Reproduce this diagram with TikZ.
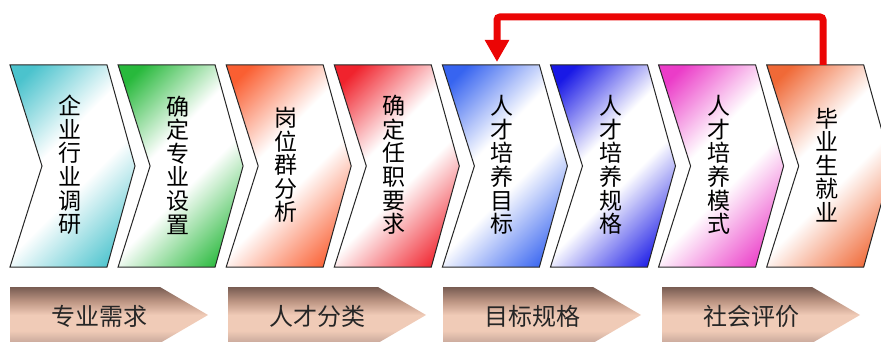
\documentclass[tikz,border=0pt]{standalone}
\usepackage{fontspec}
\newfontfamily\cjk{Noto Sans CJK SC}
\usetikzlibrary{arrows.meta}
\definecolor{chevc}{RGB}{80,195,205}
\definecolor{cA}{RGB}{75,195,205}
\definecolor{cB}{RGB}{40,185,60}
\definecolor{cC}{RGB}{250,95,50}
\definecolor{cD}{RGB}{240,35,45}
\definecolor{cE}{RGB}{55,100,240}
\definecolor{cF}{RGB}{25,25,230}
\definecolor{cG}{RGB}{235,60,200}
\definecolor{cH}{RGB}{240,105,55}
\definecolor{brtop}{RGB}{120,92,82}
\definecolor{brtan}{RGB}{190,150,132}
\definecolor{brmid}{RGB}{240,203,183}
\definecolor{brbot}{RGB}{200,168,155}
\definecolor{arrred}{RGB}{235,5,5}
\pgfdeclarehorizontalshading[chevc]{chevshade}{100bp}{color(0bp)=(chevc); color(20bp)=(chevc); color(42bp)=(white); color(56bp)=(white); color(80bp)=(chevc); color(100bp)=(chevc)}
\pgfdeclareverticalshading{brownshade}{100bp}{color(0bp)=(brbot); color(25bp)=(brbot); color(36bp)=(brmid); color(50bp)=(brmid); color(62bp)=(brtan); color(75bp)=(brtop); color(100bp)=(brtop)}
\tikzset{
  chevpath/.style={draw=black!85, line width=1pt, line join=miter, shading=chevshade, shading angle=-45},
  chevtext/.style={font=\cjk\fontsize{23}{23.6}\selectfont, align=center, inner sep=0pt, text=black},
  bottompath/.style={shading=brownshade},
  bottomtext/.style={font=\cjk\fontsize{24}{24}\selectfont, inner sep=0pt, text=black!85},
  backarrow/.style={draw=arrred, line width=7pt, rounded corners=3pt, -{Triangle[width=23pt,length=22pt]}}
}
\begin{document}
\begin{tikzpicture}[x=1pt,y=-1pt]
\useasboundingbox (0,0) rectangle (881,342);
\clip (0,0) rectangle (881,342);
\foreach \i/\c/\t in {0/cA/{企\\业\\行\\业\\调\\研},1/cB/{确\\定\\专\\业\\设\\置},2/cC/{岗\\位\\群\\分\\析},3/cD/{确\\定\\任\\职\\要\\求},4/cE/{人\\才\\培\\养\\目\\标},5/cF/{人\\才\\培\\养\\规\\格},6/cG/{人\\才\\培\\养\\模\\式},7/cH/{毕\\业\\生\\就\\业}}{
  \pgfmathsetmacro{\xo}{10+108.1*\i}
  \colorlet{chevc}{\c}
  \path[chevpath] (\xo,65) -- (\xo+97,65) -- (\xo+125,166) -- (\xo+97,267) -- (\xo,267) -- (\xo+32,166) -- cycle;
  \node[chevtext] (c\i) at (\xo+60,165) {\t};
  \coordinate (t\i) at (\xo+56,65);
}
\foreach \i/\xs/\t in {1/10/专业需求,2/228/人才分类,3/443/目标规格,4/662/社会评价}{
  \path[bottompath] (\xs,287) -- (\xs+150,287) -- (\xs+198,315) -- (\xs+150,343) -- (\xs,343) -- cycle;
  \node[bottomtext] (b\i) at (\xs+89,316) {\t};
}
\coordinate (t7) at (823,65);
\coordinate (t4) at (497,62);
\draw[backarrow] (t7) -- ++(0,-48) -| (t4);
\end{tikzpicture}
\end{document}
